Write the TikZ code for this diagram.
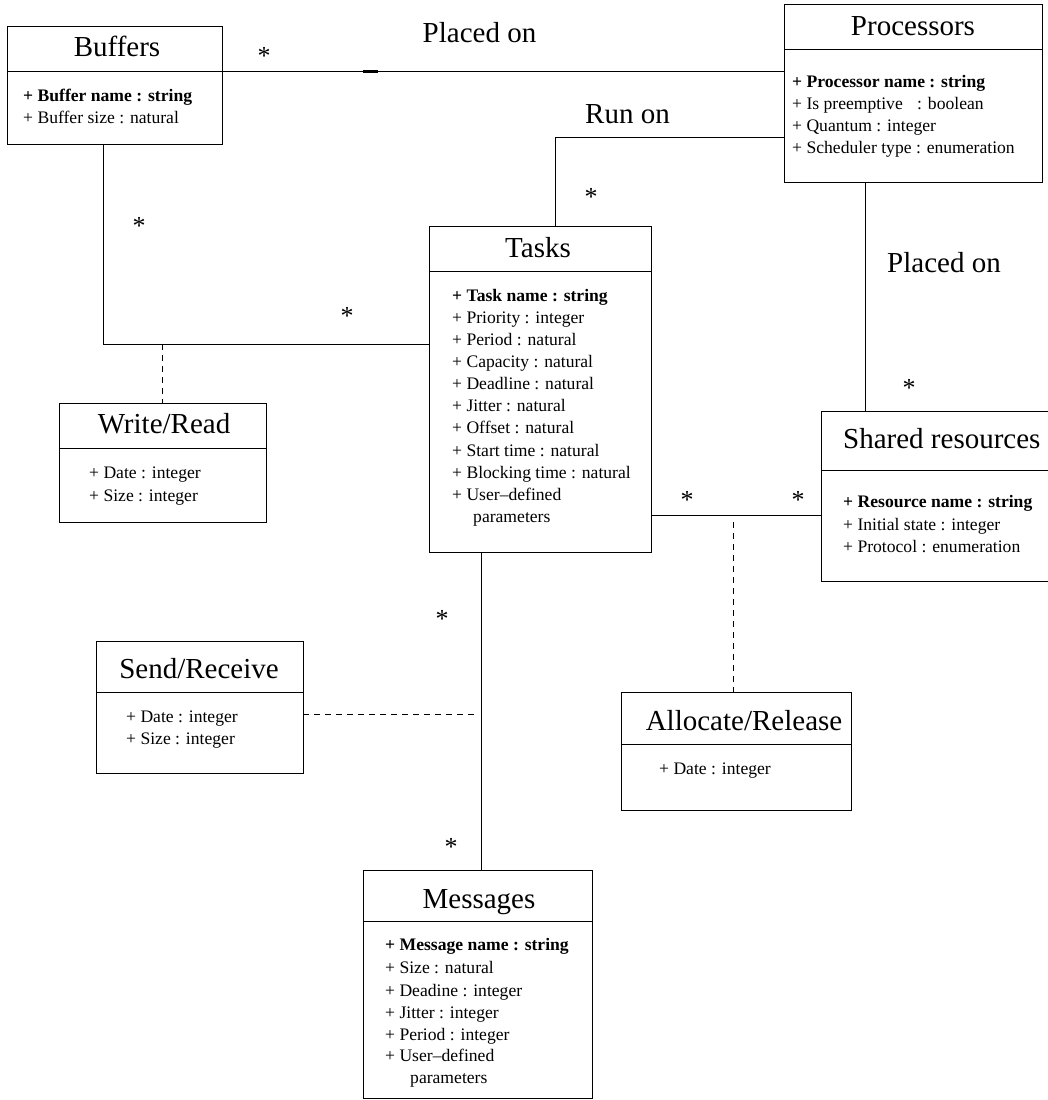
\documentclass[tikz,border=0pt]{standalone}
\usepackage{fontspec}
\setmainfont{Liberation Serif}
\begin{document}
\begin{tikzpicture}[x=1pt,y=-1pt,
  umlbox/.style={draw,rectangle,line width=0.8pt,inner sep=0pt,outer sep=0pt,anchor=north west},
  divline/.style={line width=0.8pt},
  conn/.style={line width=0.8pt},
  assoc/.style={line width=0.8pt,dash pattern=on 6pt off 5pt},
  ttl/.style={font=\fontsize{29}{34}\selectfont,anchor=base,inner sep=0pt},
  attr/.style={font=\fontsize{17.6}{22}\selectfont,anchor=base west,inner sep=0pt},
  battr/.style={attr,font=\fontsize{17.6}{22}\selectfont\bfseries},
  mult/.style={font=\fontsize{26}{30}\selectfont,anchor=base,inner sep=0pt},
  lbl/.style={font=\fontsize{29}{34}\selectfont,anchor=base,inner sep=0pt}]
\useasboundingbox (0,0) rectangle (1048,1100);
\clip (0,0) rectangle (1048,1100);

% boxes
\node[umlbox,minimum width=215pt,minimum height=118pt] (buf) at (7,26) {};
\node[umlbox,minimum width=258pt,minimum height=178pt] (proc) at (784,4) {};
\node[umlbox,minimum width=222pt,minimum height=326pt] (tasks) at (429,226) {};
\node[umlbox,minimum width=207pt,minimum height=119pt] (wr) at (59,403) {};
\node[umlbox,minimum width=207pt,minimum height=132pt] (sr) at (96,641) {};
\node[umlbox,minimum width=229pt,minimum height=228pt] (msg) at (363,870) {};
\node[umlbox,minimum width=240pt,minimum height=170pt] (shared) at (821,411) {};
\node[umlbox,minimum width=230pt,minimum height=118pt] (ar) at (621,692) {};

% dividers
\draw[divline] (7,71) -- (222,71);
\draw[divline] (784,49) -- (1042,49);
\draw[divline] (429,271) -- (651,271);
\draw[divline] (59,448) -- (266,448);
\draw[divline] (96,692) -- (303,692);
\draw[divline] (363,921) -- (592,921);
\draw[divline] (821,470) -- (1061,470);
\draw[divline] (621,744) -- (851,744);

% titles
\node[ttl] (tbuf) at (117,56) {Buffers};
\node[ttl] (tproc) at (913,35) {Processors};
\node[ttl] (ttasks) at (538,257) {Tasks};
\node[ttl] (twr) at (164,433) {Write/Read};
\node[ttl] (tsr) at (199,678) {Send/Receive};
\node[ttl] (tmsg) at (479,908) {Messages};
\node[ttl,anchor=base west] (tshared) at (843,448) {Shared resources};
\node[ttl] (tar) at (744,730) {Allocate/Release};

% attributes
\node[battr] (b1) at (23,101) {+ Buffer name : string};
\node[attr] (b2) at (23,123) {+ Buffer size : natural};

\node[battr] (p1) at (792,87) {+ Processor name : string};
\node[attr] (p2) at (792,109) {+ Is preemptive\hspace{10pt} : boolean};
\node[attr] (p3) at (792,131) {+ Quantum : integer};
\node[attr] (p4) at (792,153) {+ Scheduler type : enumeration};

\node[battr] (k1) at (452,301) {+ Task name : string};
\node[attr] (k2) at (452,323) {+ Priority : integer};
\node[attr] (k3) at (452,345) {+ Period : natural};
\node[attr] (k4) at (452,367.5) {+ Capacity : natural};
\node[attr] (k5) at (452,389.5) {+ Deadline : natural};
\node[attr] (k6) at (452,411.5) {+ Jitter : natural};
\node[attr] (k7) at (452,433.5) {+ Offset : natural};
\node[attr] (k8) at (452,456) {+ Start time : natural};
\node[attr] (k9) at (452,478) {+ Blocking time : natural};
\node[attr] (k10) at (452,500) {+ User--defined};
\node[attr] (k11) at (473,522) {parameters};

\node[attr] (w1) at (89,478) {+ Date : integer};
\node[attr] (w2) at (89,501) {+ Size : integer};

\node[attr] (s1) at (126,722) {+ Date : integer};
\node[attr] (s2) at (126,744) {+ Size : integer};

\node[battr] (m1) at (385,950) {+ Message name : string};
\node[attr] (m2) at (385,973) {+ Size : natural};
\node[attr] (m3) at (385,996) {+ Deadine : integer};
\node[attr] (m4) at (385,1018) {+ Jitter : integer};
\node[attr] (m5) at (385,1040) {+ Period : integer};
\node[attr] (m6) at (385,1061) {+ User--defined};
\node[attr] (m7) at (410,1083) {parameters};

\node[battr] (r1) at (843,507) {+ Resource name : string};
\node[attr] (r2) at (843,530) {+ Initial state : integer};
\node[attr] (r3) at (843,552) {+ Protocol : enumeration};

\node[attr] (a1) at (659,774) {+ Date : integer};

% connector helper coordinates
\coordinate (yA) at (0,71);
\coordinate (jR) at (555,137);
\coordinate (xP) at (865.5,0);
\coordinate (jB) at (103,344);
\coordinate (xT) at (481.5,0);
\coordinate (jS) at (475,714);
\coordinate (yT) at (0,515);
\coordinate (jA) at (733,522);

% connectors
\draw[conn] (buf.east |- yA) -- (proc.west |- yA);
\draw[line width=2.6pt] (363,71.6) -- (378,71.6);
\draw[conn] (proc.west |- jR) -- (jR) -- (tasks.north -| jR);
\draw[conn] (proc.south -| xP) -- (shared.north -| xP);
\draw[conn] (buf.south -| jB) -- (jB) -- (tasks.west |- jB);
\draw[assoc] (wr.north |- jB) -- (wr.north);
\draw[conn] (tasks.south -| xT) -- (msg.north -| xT);
\draw[assoc] (sr.east |- jS) -- (jS);
\draw[conn] (tasks.east |- yT) -- (shared.west |- yT);
\draw[assoc] (jA) -- (ar.north -| jA);

% multiplicities
\node[mult] (s_bp) at (264,64) {*};
\node[mult] (s_bb) at (139,234) {*};
\node[mult] (s_bt) at (347,324) {*};
\node[mult] (s_rt) at (591,205) {*};
\node[mult] (s_ps) at (909,396) {*};
\node[mult] (s_ts1) at (687,508) {*};
\node[mult] (s_ts2) at (798,508) {*};
\node[mult] (s_tm1) at (442,627) {*};
\node[mult] (s_tm2) at (451,855) {*};

% association labels
\node[lbl] (l1) at (479.5,42) {Placed on};
\node[lbl] (l2) at (627.5,123) {Run on};
\node[lbl] (l3) at (944,272) {Placed on};
\end{tikzpicture}
\end{document}
